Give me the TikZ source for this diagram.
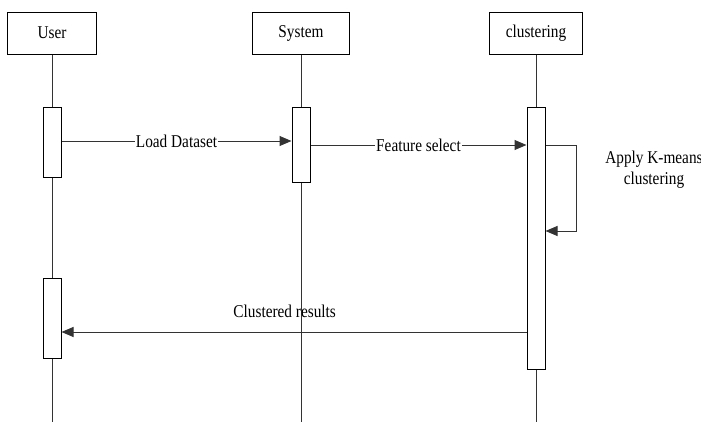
\documentclass[tikz,border=0pt]{standalone}
\usepackage{fontspec}
\setmainfont[FakeStretch=0.85]{Liberation Serif}
\usetikzlibrary{arrows.meta,positioning}
\tikzset{%
  actor/.style={rectangle,draw=black,minimum height=31.5pt,line width=0.75pt},
  bar/.style={rectangle,draw=black,fill=white,minimum width=13.5pt,inner sep=0pt,line width=0.75pt},
  life/.style={draw=black!80,line width=0.75pt},
  msg/.style={draw=black!80,line width=0.75pt,-{Triangle[length=9pt,width=7.5pt]}}%
}

\begin{document}
\begin{tikzpicture}[x=0.75pt,y=-0.75pt,font=\fontsize{13.5}{16}\selectfont]
    \useasboundingbox (0,0) rectangle (701,422);
    \node (user) [actor, minimum width=66.75pt] at (52,33) {User};
    \node (system) [actor, minimum width=72.75pt] at (301,33) {System};
    \node (clust) [actor, minimum width=69.75pt] at (536,33) {clustering};

    \draw[life] (user) -- (user |- 0,422);
    \draw[life] (system) -- (system |- 0,422);
    \draw[life] (clust) -- (clust |- 0,422);

    \node (user_a) [bar, minimum height=52.5pt] at (52,142) {};
    \node (system_a) [bar, minimum height=56.25pt] at (301,144.5) {};
    \node (clust_a) [bar, minimum height=196.5pt] at (536,238) {};
    \node (user_b) [bar, minimum height=60pt] at (52,318) {};

    \draw[msg] (user_a.east |- 0,141) -- (system_a.west |- 0,141)
        node[midway,fill=white,inner sep=1pt] {Load Dataset};
    \draw[msg] (system_a.east |- 0,145) -- (clust_a.west |- 0,145)
        node[midway,fill=white,inner sep=1pt] {Feature select};
    \draw[msg] (clust_a.east |- 0,145) -- ++(31,0) |- (clust_a.east |- 0,231);
    \node (kmeans) [align=center] at (654,170) {Apply K-means\\clustering};
    \draw[msg] (clust_a.west |- 0,332) -- (user_b.east |- 0,332)
        node[pos=0.52,above=7pt] {Clustered results};

\end{tikzpicture}
\end{document}
